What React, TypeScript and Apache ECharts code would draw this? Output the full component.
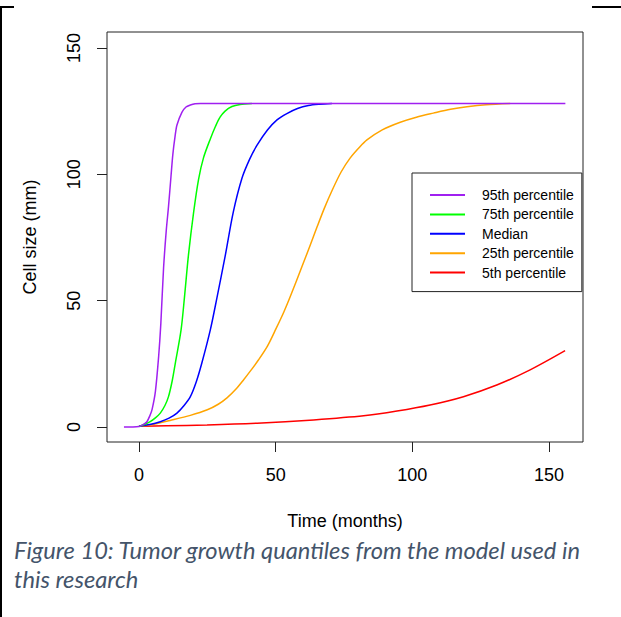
import React, { useEffect, useRef } from "react";
import * as echarts from "echarts";

const seriesNames = ["95th percentile", "75th percentile", "Median", "25th percentile", "5th percentile"];
const seriesColors = ["#A020F0", "#00FF00", "#0000FF", "#FFA500", "#FF0000"];

// [time (months), cell size (mm)]
const p95: number[][] = [
  [-5.5, 0], [0, 0.2], [1.5, 0.9], [2.9, 2.1], [4, 4.5], [4.8, 7], [6, 14], [7.2, 28], [8, 41],
  [9, 63], [10, 78], [10.8, 87.2], [11.7, 99], [12.4, 108], [13.2, 115], [13.9, 119.5], [15.7, 124.5],
  [17.2, 126.6], [18.8, 127.4], [20.5, 127.9], [22.5, 128], [156, 128],
];
const p75: number[][] = [
  [0, 0.2], [2, 1], [4.1, 2.1], [6, 3.6], [7.8, 5.5], [9.5, 8.5], [10.8, 12], [12.2, 18.5], [13.3, 25.3],
  [15.4, 38.4], [16.7, 52], [18.1, 68], [20, 85], [21.8, 98], [23.6, 106.5], [26.1, 114], [28, 119],
  [29.6, 122.5], [31.5, 125], [34, 126.8], [37, 127.6], [41.3, 128],
];
const p50: number[][] = [
  [0, 0.3], [4, 1], [7.8, 2.1], [11, 3.5], [13.9, 5.5], [16.5, 8.5], [18.8, 12], [21, 18], [23, 25.3],
  [26.1, 38.4], [28.5, 51], [31.6, 68], [34.5, 85], [37.7, 98.5], [40.5, 106], [43.2, 111.5], [47, 117.5],
  [50.5, 121.5], [54.1, 124], [58, 126], [62, 127.2], [66, 127.7], [70.6, 128],
];
const p25: number[][] = [
  [0, 0.3], [5, 1], [11.4, 2.6], [18.8, 4.6], [25, 6.8], [29, 9], [32.2, 11.5], [35.5, 15], [38.3, 18.7],
  [41, 22.5], [43.7, 26.5], [47, 32], [50.1, 38.8], [53, 45.5], [55.5, 52], [59.6, 63.4], [62.5, 71.5],
  [65.1, 79], [67.8, 86.5], [70.6, 93.5], [74, 101], [77.3, 106.5], [80.5, 110.5], [83.4, 113.6],
  [89, 117.6], [95.6, 120.6], [101.5, 122.6], [107.7, 124.2], [114, 125.7], [120, 126.7], [127, 127.5],
  [135.8, 128],
];
const p5: number[][] = [
  [0, 0.3], [10, 0.5], [24.9, 0.8], [43.2, 1.5], [63.9, 2.8], [82.2, 4.4], [94.4, 6.3],
  [106.5, 8.7], [118.7, 12], [130.9, 16.6], [143.1, 22.6], [155.9, 30.2],
];
const seriesData = [p95, p75, p50, p25, p5];

const xTicks = [0, 50, 100, 150];
const yTicks = [0, 50, 100, 150];

const captionLines = [
  "Figure 10: Tumor growth quantiles from the model used in",
  "this research",
];

export default function App() {
  const ref = useRef<HTMLDivElement>(null);
  useEffect(() => {
    if (!ref.current) return;
    const chart = echarts.init(ref.current, null, { renderer: "svg" });
    const font = "Liberation Sans";
    const series = seriesNames
      .map((name, i) => ({
        name,
        type: "line",
        data: seriesData[i],
        showSymbol: false,
        symbol: "none",
        smooth: 0.3,
        lineStyle: { color: seriesColors[i], width: 1.5 },
        itemStyle: { color: seriesColors[i] },
        z: 10 - i,
      }))
      .reverse();
    chart.setOption({
      animation: false,
      backgroundColor: "#fff",
      grid: {
        left: 107, top: 32, width: 476, height: 410,
        show: true, borderColor: "#222", borderWidth: 1, backgroundColor: "transparent",
      },
      xAxis: {
        type: "value", min: -11.7, max: 162.45,
        name: "Time (months)", nameLocation: "middle", nameGap: 70,
        nameTextStyle: { fontSize: 18, fontFamily: font, color: "#000" },
        axisLine: { show: false, onZero: false },
        axisTick: { show: true, length: 10, lineStyle: { color: "#222" }, customValues: xTicks },
        axisLabel: { fontSize: 18, fontFamily: font, color: "#000", margin: 24, customValues: xTicks },
        splitLine: { show: false },
      },
      yAxis: {
        type: "value", min: -5.94, max: 156.3,
        name: "Cell size (mm)", nameLocation: "middle", nameGap: 68,
        nameTextStyle: { fontSize: 18, fontFamily: font, color: "#000" },
        axisLine: { show: false, onZero: false },
        axisTick: { show: true, length: 10, lineStyle: { color: "#222" }, customValues: yTicks },
        axisLabel: { fontSize: 18, fontFamily: font, color: "#000", margin: 24, rotate: 90, customValues: yTicks },
        splitLine: { show: false },
      },
      legend: {
        orient: "vertical", left: 412, top: 173,
        data: seriesNames,
        itemWidth: 35, itemHeight: 14, itemGap: 5.4,
        padding: [15, 8, 12, 17],
        borderColor: "#222", borderWidth: 1, borderRadius: 0,
        backgroundColor: "#fff",
        itemStyle: { opacity: 0 },
        textStyle: { fontSize: 14, fontFamily: font, color: "#000", padding: [0, 0, 0, 12] },
      },
      graphic: [
        { type: "line", shape: { x1: 1, y1: 7, x2: 1, y2: 617 }, style: { stroke: "#000", lineWidth: 2 } },
        { type: "line", shape: { x1: 0, y1: 7, x2: 14, y2: 7 }, style: { stroke: "#000", lineWidth: 2 } },
        { type: "line", shape: { x1: 592, y1: 7, x2: 621, y2: 7 }, style: { stroke: "#000", lineWidth: 2 } },
        ...captionLines.map((t, i) => ({
          type: "text", left: 14, top: 538 + i * 29,
          style: { text: t, fontSize: 23.7, fontStyle: "italic", fontFamily: "Lato", fill: "#44546A" },
        })),
      ],
      series,
    });
    return () => chart.dispose();
  }, []);
  return <div ref={ref} style={{ position: "absolute", left: 0, top: 0, width: 621, height: 617 }} />;
}
